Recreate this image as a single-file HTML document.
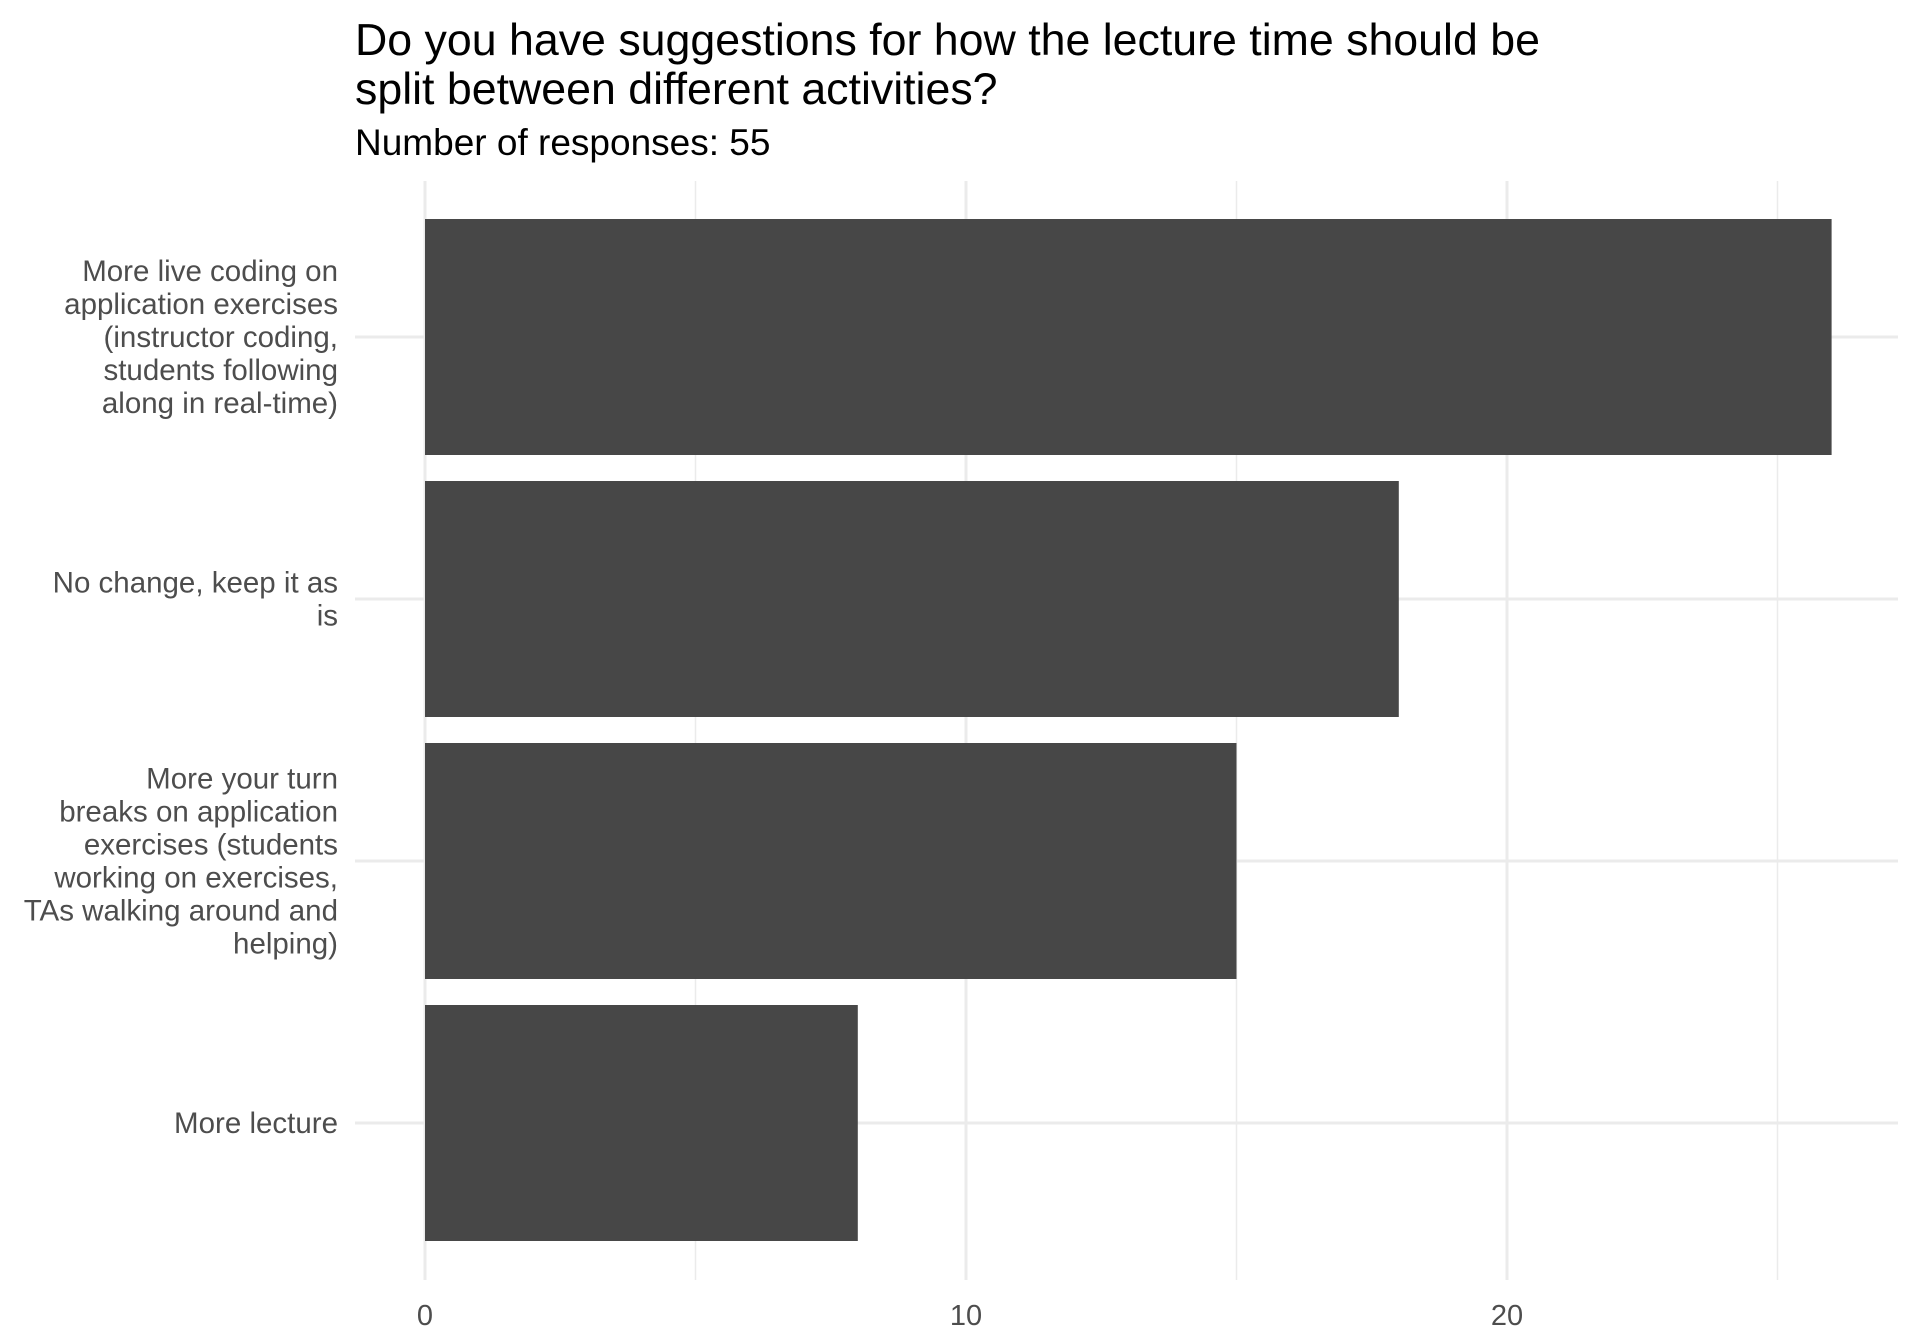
<!DOCTYPE html>
<html><head><meta charset="utf-8"><style>
html,body{margin:0;padding:0;background:#fff;}
svg{display:block;font-family:"Liberation Sans",Arial,sans-serif;}
</style></head><body>
<svg id="chart" width="1920" height="1344" viewBox="0 0 1920 1344">
<text x="355" y="55" font-size="44.7" fill="#000">Do you have suggestions for how the lecture time should be</text>
<text x="355" y="104" font-size="44.7" fill="#000">split between different activities?</text>
<text x="355" y="155" font-size="37" fill="#000">Number of responses: 55</text>
<g id="grid"></g><g id="bars"></g><g id="ylabels"></g><g id="xlabels"></g>
</svg>
<script>
const categories = [
 ["More live coding on","application exercises","(instructor coding,","students following","along in real-time)"],
 ["No change, keep it as","is"],
 ["More your turn","breaks on application","exercises (students","working on exercises,","TAs walking around and","helping)"],
 ["More lecture"]
];
const values = [26, 18, 15, 8];
const majorTicks = [0, 10, 20];
const minorTicks = [5, 15, 25];
const NS="http://www.w3.org/2000/svg";
const px0=355, px1=1898, py0=181, py1=1280;
const x0=425, unit=54.1;
function xs(v){return x0+v*unit;}
const step=262, firstC=337;
function yc(i){return firstC+i*step;}
const bh=236;
function mk(t,a,p){const e=document.createElementNS(NS,t);for(const k in a)e.setAttribute(k,a[k]);p.appendChild(e);return e;}
const grid=document.getElementById('grid');
minorTicks.forEach(t=>{const l=mk('line',{x1:xs(t),x2:xs(t),y1:py0,y2:py1,stroke:'#ebebeb','stroke-width':1.5},grid);

});
majorTicks.forEach(t=>{const l=mk('line',{x1:xs(t),x2:xs(t),y1:py0,y2:py1,stroke:'#ebebeb','stroke-width':3},grid);

});
categories.forEach((c,i)=>{const l=mk('line',{x1:px0,x2:px1,y1:yc(i),y2:yc(i),stroke:'#ebebeb','stroke-width':3},grid);

});
const bars=document.getElementById('bars');
values.forEach((v,i)=>{const r=mk('rect',{x:xs(0),y:yc(i)-bh/2,width:xs(v)-xs(0),height:bh,fill:'#474747'},bars);

});
const yl=document.getElementById('ylabels');
categories.forEach((lines,i)=>{const lh=33;const start=yc(i)-(lines.length-1)*lh/2+10;
const t=mk('text',{'text-anchor':'end','font-size':29.5,fill:'#4d4d4d'},yl);


lines.forEach((s,j)=>{const ts=mk('tspan',{x:338,y:start+j*lh},t);ts.textContent=s;});});
const xl=document.getElementById('xlabels');
majorTicks.forEach(t=>{const e=mk('text',{x:xs(t),y:1325,'text-anchor':'middle','font-size':29,fill:'#4d4d4d'},xl);


e.textContent=t;});
</script>
</body></html>
